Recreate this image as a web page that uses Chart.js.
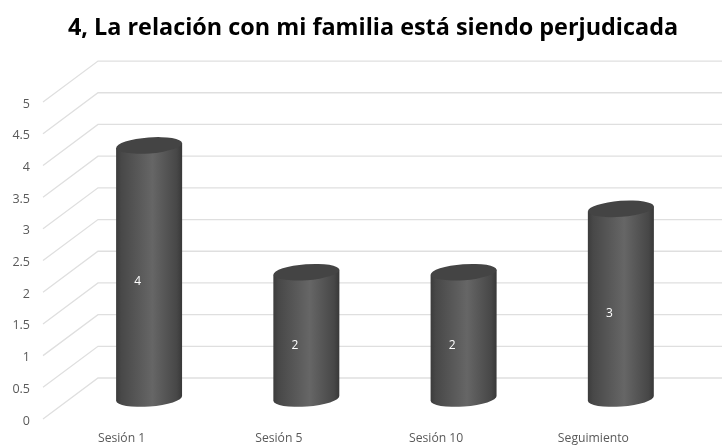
<!DOCTYPE html>
<html>
<head>
<meta charset="utf-8">
<style>
  html, body { margin: 0; padding: 0; background: #fff; }
  canvas { display: block; }
</style>
<script src="https://cdn.jsdelivr.net/npm/chart.js@4"></script>
</head>
<body>
<canvas id="chart" width="722" height="445"></canvas>
<script>
const categories = ['Sesión 1', 'Sesión 5', 'Sesión 10', 'Seguimiento'];
const values = [4, 2, 2, 3];
const yTickLabels = ['0', '0.5', '1', '1.5', '2', '2.5', '3', '3.5', '4', '4.5', '5'];
const titleText = '4, La relación con mi familia está siendo perjudicada';

// the picture is a fake 3d chart: the scale sits on the front plane
const depthX = 55;
const depthY = 41;

const fake3d = {
  id: 'fake3d',
  afterLayout(chart) {
    // title is centred on the whole 3d box, not the front plane
    chart.titleBlock.left = 24;
    chart.titleBlock.right = chart.width;
  },
  beforeDatasetsDraw(chart) {
    const ctx = chart.ctx;
    const yScale = chart.scales.y;
    ctx.save();
    ctx.strokeStyle = '#dfdfdf';
    ctx.lineWidth = 1.3;
    yScale.ticks.forEach(t => {
      const y = yScale.getPixelForValue(t.value);
      ctx.beginPath();
      ctx.moveTo(chart.chartArea.left, y);
      ctx.lineTo(chart.chartArea.left + depthX, y - depthY);
      ctx.lineTo(chart.width, y - depthY);
      ctx.stroke();
    });
    ctx.restore();
  },
  afterDatasetsDraw(chart) {
    const ctx = chart.ctx;
    chart.getDatasetMeta(0).data.forEach((bar, i) => {
      // cylinders stand half way into the depth
      const cx = bar.x + depthX / 2;
      const top = bar.y - depthY / 2 + 0.5;
      const base = bar.base - depthY / 2;
      const rx = bar.width / 2;
      const ry = 8;
      const tilt = -0.075;
      const dy = Math.sin(tilt) * rx;

      const grad = ctx.createLinearGradient(cx - rx, 0, cx + rx, 0);
      grad.addColorStop(0, '#3c3c3c');
      grad.addColorStop(0.08, '#484848');
      grad.addColorStop(0.55, '#666666');
      grad.addColorStop(0.92, '#474747');
      grad.addColorStop(1, '#383838');

      ctx.save();
      ctx.fillStyle = grad;
      ctx.beginPath();
      ctx.moveTo(cx - rx, top - dy);
      ctx.lineTo(cx - rx, base - dy);
      ctx.ellipse(cx, base, rx, ry, tilt, Math.PI, 0, true);
      ctx.lineTo(cx + rx, top + dy);
      ctx.closePath();
      ctx.fill();

      ctx.fillStyle = '#444444';
      ctx.beginPath();
      ctx.ellipse(cx, top, rx, ry, tilt, 0, Math.PI * 2);
      ctx.fill();

      ctx.fillStyle = '#ffffff';
      ctx.font = '12px "Open Sans"';
      ctx.textAlign = 'center';
      ctx.textBaseline = 'middle';
      ctx.fillText(String(values[i]), bar.x + 16, (top + base) / 2 + 10);
      ctx.restore();
    });
  }
};

new Chart(document.getElementById('chart'), {
  type: 'bar',
  data: {
    labels: categories,
    datasets: [{
      data: values,
      backgroundColor: 'rgba(0,0,0,0)',
      categoryPercentage: 1,
      barPercentage: 0.42
    }]
  },
  options: {
    responsive: false,
    animation: false,
    layout: { padding: { left: 0, right: 50, top: 0, bottom: 0 } },
    plugins: {
      legend: { display: false },
      tooltip: { enabled: false },
      title: {
        display: true,
        text: titleText,
        color: '#000000',
        font: { family: 'Open Sans', size: 23.4, weight: 'bold' },
        padding: { top: 14, bottom: 60 }
      }
    },
    scales: {
      x: {
        grid: { display: false },
        border: { display: false },
        afterFit: s => { s.height = 26; },
        ticks: {
          color: '#595959',
          font: { family: 'Open Sans', size: 12.2 },
          padding: 4,
          maxRotation: 0
        }
      },
      y: {
        min: 0,
        max: 5,
        grid: { display: false },
        border: { display: false },
        afterFit: s => { s.width = 43; },
        ticks: {
          stepSize: 0.5,
          color: '#595959',
          font: { family: 'Open Sans', size: 12.5 },
          padding: 5,
          labelOffset: 2,
          callback: (v, i) => yTickLabels[i]
        }
      }
    }
  },
  plugins: [fake3d]
});
</script>
</body>
</html>
